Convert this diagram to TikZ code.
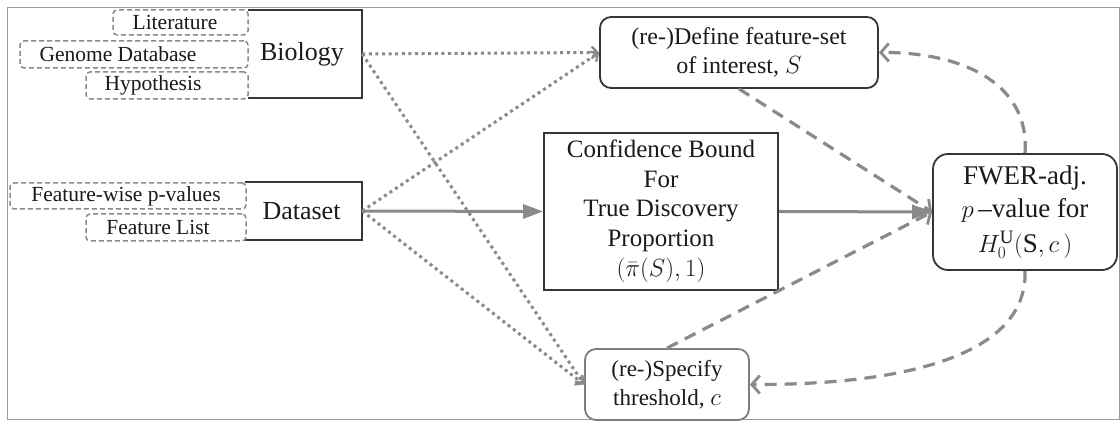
\documentclass[tikz,border=0pt]{standalone}
\usepackage{fontspec}
\setmainfont{Liberation Serif}[Ligatures=TeX]
\usetikzlibrary{arrows.meta}
\definecolor{ln}{HTML}{8A8A8A}
\definecolor{bd}{HTML}{363636}
\definecolor{lb}{HTML}{7E7E7E}
\definecolor{fr}{HTML}{9A9A9A}
\definecolor{tx}{HTML}{1A1A1A}
\begin{document}
\begin{tikzpicture}[x=1pt,y=1pt,
  mainbox/.style={draw=bd, line width=1.8pt, fill=white, text=tx, align=center, inner sep=0pt},
  openbox/.style={fill=white, text=tx, inner sep=0pt},
  roundbox/.style={mainbox, rounded corners=11pt},
  srcbox/.style={draw=ln, line width=1.5pt, dash pattern=on 5pt off 3pt, rounded corners=4pt, fill=white, text=tx, inner sep=0pt, font=\fontsize{21.5}{24}\selectfont},
  dotline/.style={draw=ln, line width=3pt, dash pattern=on 3pt off 3.6pt, -{Straight Barb[length=6pt,width=12pt,line width=2.2pt]}},
  solidline/.style={draw=ln, line width=3pt, -{Triangle[length=20pt,width=14pt]}},
  dashline/.style={draw=ln, line width=3.2pt, dash pattern=on 12pt off 8pt, -{Straight Barb[length=8pt,width=18pt,line width=2.8pt]}}
]
\useasboundingbox (0,0) rectangle (1120,422);
\fill[white] (0,0) rectangle (1120,422);
\draw[fr, line width=1pt] (7,2) rectangle (1119,414);

% source boxes
\node[openbox, minimum width=114, minimum height=88, font=\fontsize{26}{28}\selectfont] (bio) at (305,368) {\hspace*{-6pt}Biology};
\draw[bd, line width=1.8pt] (bio.north west) -| (bio.south east) -- (bio.south west);
\node[srcbox, minimum width=135, minimum height=25] (lit) at (180.5,399.5) {Literature\hspace*{11pt}};
\node[srcbox, minimum width=228, minimum height=27] (gen) at (134,367.5) {Genome Database\hspace*{32pt}};
\node[srcbox, minimum width=162, minimum height=27] (hyp) at (167,336.5) {Hypothesis\hspace*{28pt}};

\node[openbox, minimum width=117, minimum height=58, font=\fontsize{26}{28}\selectfont] (data) at (303.5,211) {\hspace*{-4pt}Dataset};
\draw[bd, line width=1.8pt] (data.north west) -| (data.south east) -- (data.south west);
\node[srcbox, minimum width=236, minimum height=26] (fwp) at (128,226) {Feature-wise p-values\hspace*{4pt}};
\node[srcbox, minimum width=160, minimum height=27] (flist) at (166,194.5) {Feature List\hspace*{16pt}};

% main boxes
\node[roundbox, minimum width=278, minimum height=71, font=\fontsize{24}{29}\selectfont] (def) at (739,369.5) {(re-)Define feature-set\\of interest, $S$};
\node[mainbox, minimum width=234, minimum height=157, font=\fontsize{25}{29.5}\selectfont] (conf) at (661,210.5) {Confidence Bound\\For\\True Discovery\\Proportion\\[1pt]$(\bar{\pi}(S),1)$};
\node[roundbox, rounded corners=15pt, minimum width=184, minimum height=116, font=\fontsize{27}{33}\selectfont] (fwer) at (1025,210) {FWER-adj.\\$p$\,--value for\\[2pt]$H_0^{\mathrm{U}}(\mathrm{S},c\,)$};
\node[roundbox, draw=lb, minimum width=164, minimum height=71, font=\fontsize{23}{29}\selectfont] (spec) at (667,37.5) {(re-)Specify\\threshold, $c$};

% connectors
\draw[dotline] (bio.east) -- (def.west);
\draw[dotline] (bio.east) -- (spec.west);
\draw[dotline] (data.east) -- (def.west);
\draw[dotline] (data.east) -- (spec.west);
\draw[solidline] (data.east) -- (conf.west);
\draw[solidline] (conf.east) -- (fwer.west);
\draw[dashline] (def.south) -- (fwer.west);
\draw[dashline] (spec.north) -- (fwer.west);
\draw[dashline] (fwer.north) .. controls (1030,340) and (960,370) .. (def.east);
\draw[dashline] (fwer.south) .. controls (1028,65) and (900,37) .. (spec.east);
\end{tikzpicture}
\end{document}
